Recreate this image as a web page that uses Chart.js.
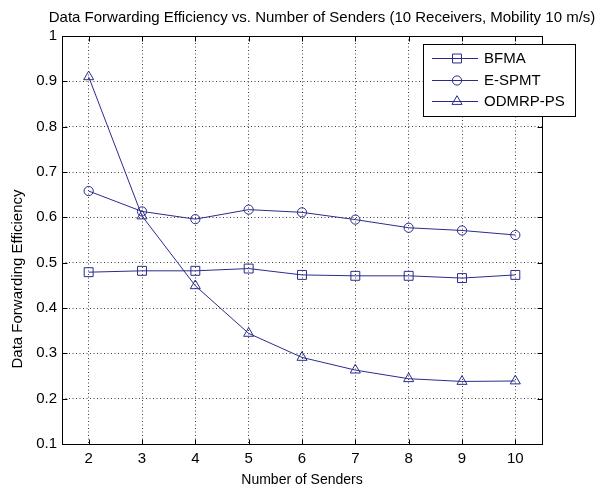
<!DOCTYPE html>
<html>
<head>
<meta charset="utf-8">
<title>Data Forwarding Efficiency</title>
<script src="https://cdn.jsdelivr.net/npm/chart.js@4.4.1/dist/chart.umd.min.js"></script>
<style>
  html, body { margin: 0; padding: 0; background: #fff; }
  #wrap { width: 605px; height: 491px; }
</style>
</head>
<body>
<div id="wrap"><canvas id="chart" width="605" height="491"></canvas></div>
<script>
// Number of senders on the x axis
const senders = [2, 3, 4, 5, 6, 7, 8, 9, 10];

// Data forwarding efficiency per protocol
const bfma    = [0.479, 0.482, 0.482, 0.487, 0.473, 0.471, 0.471, 0.466, 0.473];
const espmt   = [0.658, 0.613, 0.596, 0.617, 0.611, 0.595, 0.577, 0.571, 0.561];
const odmrpPs = [0.910, 0.603, 0.449, 0.344, 0.291, 0.263, 0.244, 0.238, 0.239];

const yTicks = [0.1, 0.2, 0.3, 0.4, 0.5, 0.6, 0.7, 0.8, 0.9, 1];

const titleText = 'Data Forwarding Efficiency vs. Number of Senders (10 Receivers, Mobility 10 m/s)';
const xTitle = 'Number of Senders';
const yTitle = 'Data Forwarding Efficiency';

const LINE = '#2b2b8c';
const FONT = "'Liberation Sans', Arial, sans-serif";
const FONT_SIZE = 15;

const series = [
    { label: 'BFMA', values: bfma, marker: 'rect', radius: 6.3 },
    { label: 'E-SPMT', values: espmt, marker: 'circle', radius: 4.6 },
    { label: 'ODMRP-PS', values: odmrpPs, marker: 'triangle', radius: 5.8 }
];

function toPoints(values) {
    return senders.map((s, i) => ({ x: s, y: values[i] }));
}

// MATLAB style box: full frame, inward ticks on all sides, boxed legend and labels
const axesDecor = {
    id: 'axesDecor',
    afterDraw(chart) {
        const ctx = chart.ctx;
        const { left, right, top, bottom } = chart.chartArea;
        const xs = chart.scales.x;
        const ys = chart.scales.y;
        const L = Math.round(left) + 0.5, R = Math.round(right) + 0.5;
        const T = Math.round(top) + 0.5, B = Math.round(bottom) + 0.5;
        const tick = 5;

        ctx.save();
        ctx.strokeStyle = '#000';
        ctx.lineWidth = 1;
        ctx.strokeRect(L, T, R - L, B - T);

        ctx.beginPath();
        senders.forEach(v => {
            const px = Math.round(xs.getPixelForValue(v)) + 0.5;
            ctx.moveTo(px, B); ctx.lineTo(px, B - tick);
            ctx.moveTo(px, T); ctx.lineTo(px, T + tick);
        });
        yTicks.forEach(v => {
            const py = Math.round(ys.getPixelForValue(v)) + 0.5;
            ctx.moveTo(L, py); ctx.lineTo(L + tick, py);
            ctx.moveTo(R, py); ctx.lineTo(R - tick, py);
        });
        ctx.stroke();

        // legend box
        const box = { x: 423.5, y: 44.5, w: 152, h: 72 };
        ctx.fillStyle = '#fff';
        ctx.fillRect(box.x, box.y, box.w, box.h);
        ctx.strokeRect(box.x, box.y, box.w, box.h);
        ctx.font = FONT_SIZE + 'px ' + FONT;
        ctx.textBaseline = 'middle';
        ctx.textAlign = 'left';
        chart.data.datasets.forEach((ds, i) => {
            const cy = Math.round(58 + i * 21.7) + 0.5;
            ctx.strokeStyle = LINE;
            ctx.lineWidth = 1;
            ctx.beginPath();
            ctx.moveTo(432, cy); ctx.lineTo(478, cy);
            ctx.stroke();
            ctx.fillStyle = 'rgba(0,0,0,0)';
            Chart.helpers.drawPoint(ctx, {
                pointStyle: ds.pointStyle, radius: ds.pointRadius,
                borderWidth: 1, rotation: 0
            }, 457, cy);
            ctx.fillStyle = '#000';
            ctx.fillText(ds.label, 484, cy);
        });

        // titles
        ctx.fillStyle = '#000';
        ctx.textAlign = 'center';
        ctx.fillText(titleText, 322, 18);
        ctx.font = '14px ' + FONT;
        ctx.fillText(xTitle, 302, 480);
        ctx.font = FONT_SIZE + 'px ' + FONT;
        ctx.translate(18, 279);
        ctx.rotate(-Math.PI / 2);
        ctx.fillText(yTitle, 0, 0);
        ctx.restore();
    }
};

new Chart(document.getElementById('chart'), {
    type: 'line',
    data: {
        datasets: series.map(s => ({
            label: s.label,
            data: toPoints(s.values),
            borderColor: LINE,
            borderWidth: 1,
            pointStyle: s.marker,
            pointRadius: s.radius,
            pointBorderColor: LINE,
            pointBackgroundColor: 'rgba(0,0,0,0)',
            pointBorderWidth: 1,
            tension: 0
        }))
    },
    options: {
        responsive: false,
        animation: false,
        devicePixelRatio: 1,
        layout: { padding: { left: 0, right: 63, top: 36, bottom: 0 } },
        font: { family: FONT, size: FONT_SIZE },
        plugins: {
            legend: { display: false },
            title: { display: false },
            tooltip: { enabled: false }
        },
        scales: {
            x: {
                type: 'linear',
                min: 1.5,
                max: 10.5,
                afterBuildTicks: scale => { scale.ticks = senders.map(v => ({ value: v })); },
                afterFit: scale => { scale.height = 47; },
                ticks: {
                    color: '#000',
                    padding: 6,
                    maxRotation: 0,
                    font: { family: FONT, size: FONT_SIZE },
                    callback: v => String(v)
                },
                grid: { color: 'rgba(0,0,0,0.75)', drawTicks: false, lineWidth: 1 },
                border: { display: false, dash: [1, 2.5] }
            },
            y: {
                type: 'linear',
                min: 0.1,
                max: 1,
                afterBuildTicks: scale => { scale.ticks = yTicks.map(v => ({ value: v })); },
                afterFit: scale => { scale.width = 62; },
                ticks: {
                    color: '#000',
                    padding: 5,
                    font: { family: FONT, size: FONT_SIZE },
                    callback: v => String(+v.toFixed(1))
                },
                grid: { color: 'rgba(0,0,0,0.75)', drawTicks: false, lineWidth: 1 },
                border: { display: false, dash: [1, 2.5] }
            }
        }
    },
    plugins: [axesDecor]
});
</script>
</body>
</html>
